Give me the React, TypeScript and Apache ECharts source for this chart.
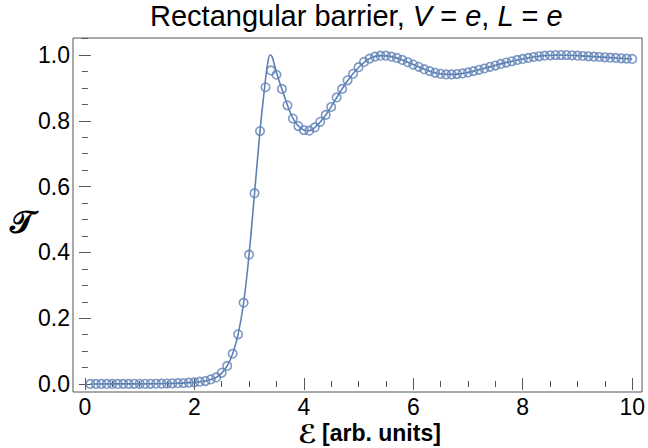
import React, { useEffect, useRef } from "react";
import * as echarts from "echarts";

const ENERGY = [
  0.1, 0.2, 0.3, 0.4, 0.5, 0.6, 0.7, 0.8, 0.9, 1.0,
  1.1, 1.2, 1.3, 1.4, 1.5, 1.6, 1.7, 1.8, 1.9, 2.0,
  2.1, 2.2, 2.3, 2.4, 2.5, 2.6, 2.7, 2.8, 2.9, 3.0,
  3.1, 3.2, 3.3, 3.4, 3.5, 3.6, 3.7, 3.8, 3.9, 4.0,
  4.1, 4.2, 4.3, 4.4, 4.5, 4.6, 4.7, 4.8, 4.9, 5.0,
  5.1, 5.2, 5.3, 5.4, 5.5, 5.6, 5.7, 5.8, 5.9, 6.0,
  6.1, 6.2, 6.3, 6.4, 6.5, 6.6, 6.7, 6.8, 6.9, 7.0,
  7.1, 7.2, 7.3, 7.4, 7.5, 7.6, 7.7, 7.8, 7.9, 8.0,
  8.1, 8.2, 8.3, 8.4, 8.5, 8.6, 8.7, 8.8, 8.9, 9.0,
  9.1, 9.2, 9.3, 9.4, 9.5, 9.6, 9.7, 9.8, 9.9, 10.0,
];

const NUMERIC_T = [
  0.0002, 0.0002, 0.0002, 0.0003, 0.0003, 0.0003, 0.0004, 0.0004, 0.0005, 0.0005,
  0.0006, 0.0007, 0.0008, 0.0009, 0.0015, 0.002, 0.0025, 0.003, 0.004, 0.005,
  0.007, 0.009, 0.014, 0.02, 0.034, 0.055, 0.092, 0.151, 0.247, 0.393,
  0.58, 0.769, 0.902, 0.953, 0.94, 0.897, 0.847, 0.807, 0.784, 0.772,
  0.77, 0.78, 0.797, 0.818, 0.842, 0.871, 0.897, 0.923, 0.943, 0.963,
  0.979, 0.989, 0.995, 0.998, 0.998, 0.995, 0.991, 0.985, 0.978, 0.971,
  0.964, 0.957, 0.951, 0.946, 0.943, 0.941, 0.941, 0.942, 0.944, 0.947,
  0.951, 0.955, 0.959, 0.964, 0.968, 0.973, 0.977, 0.981, 0.985, 0.988,
  0.991, 0.994, 0.996, 0.998, 0.999, 1.0, 1.0, 1.0, 0.999, 0.998,
  0.997, 0.996, 0.995, 0.994, 0.993, 0.992, 0.991, 0.99, 0.989, 0.988,
];

const CURVE_E = [
  0.1, 1.0, 1.5, 2.0, 2.2, 2.4, 2.5, 2.6, 2.7, 2.8, 2.9, 3.0, 3.1, 3.2, 3.25,
  3.3, 3.34, 3.38, 3.42, 3.46, 3.5, 3.55, 3.6, 3.7, 3.8, 3.9, 4.0, 4.1, 4.2,
  4.4, 4.6, 4.8, 5.0, 5.2, 5.4, 5.6, 5.8, 6.0, 6.2, 6.4, 6.6, 6.8, 7.0, 7.2,
  7.4, 7.6, 7.8, 8.0, 8.2, 8.4, 8.7, 9.0, 9.3, 9.6, 10.0,
];
const CURVE_T = [
  0.0002, 0.0005, 0.0015, 0.005, 0.009, 0.02, 0.033, 0.055, 0.092, 0.151, 0.247, 0.393, 0.58, 0.77, 0.85,
  0.925, 0.975, 1.0, 0.995, 0.972, 0.948, 0.92, 0.897, 0.848, 0.808, 0.784, 0.772, 0.77, 0.779,
  0.817, 0.87, 0.922, 0.962, 0.989, 0.998, 0.995, 0.985, 0.971, 0.957, 0.946, 0.941, 0.942, 0.947, 0.955,
  0.964, 0.973, 0.981, 0.988, 0.994, 0.998, 1.0, 0.998, 0.995, 0.992, 0.988,
];

const X_MAJOR = [0, 2, 4, 6, 8, 10];
const X_MINOR = [0.5, 1, 1.5, 2.5, 3, 3.5, 4.5, 5, 5.5, 6.5, 7, 7.5, 8.5, 9, 9.5];
const Y_MAJOR = [0, 0.2, 0.4, 0.6, 0.8, 1.0];
const Y_MINOR = [
  0.05, 0.1, 0.15, 0.25, 0.3, 0.35, 0.45, 0.5, 0.55, 0.65, 0.7, 0.75, 0.85, 0.9, 0.95, 1.05,
];

const TITLE_PARTS = "Rectangular barrier, {i|V} = {i|e}, {i|L} = {i|e}";
const X_NAME_SYMBOL = "ℰ";
const X_NAME_UNITS = "[arb. units]";
const Y_NAME = "𝒯";

const BLUE = "#5e81b5";
const FRAME = "#555555";
const FONT = "Liberation Sans, Arial, sans-serif";
const SCRIPT_FONT = "DejaVu Serif, DejaVu Sans, serif";
const X_MIN = -0.217;
const X_MAX = 10.18;
const Y_MIN = -0.0243;
const Y_MAX = 1.0517;

function xAxisDef(position: string, values: number[], len: number, labels: boolean) {
  return {
    type: "value",
    position,
    min: X_MIN,
    max: X_MAX,
    axisLine: { show: false },
    splitLine: { show: false },
    axisTick: {
      show: true,
      inside: true,
      length: len,
      customValues: values,
      lineStyle: { color: FRAME, width: 1 },
    },
    axisLabel: labels
      ? {
          show: true,
          customValues: values,
          fontSize: 23,
          color: "#000",
          fontFamily: FONT,
          margin: 3,
          formatter: (v: number) => String(Math.round(v)),
        }
      : { show: false },
  };
}

function yAxisDef(position: string, values: number[], len: number, labels: boolean) {
  return {
    type: "value",
    position,
    min: Y_MIN,
    max: Y_MAX,
    axisLine: { show: false },
    splitLine: { show: false },
    axisTick: {
      show: true,
      inside: true,
      length: len,
      customValues: values,
      lineStyle: { color: FRAME, width: 1 },
    },
    axisLabel: labels
      ? {
          show: true,
          customValues: values,
          fontSize: 23,
          color: "#000",
          fontFamily: FONT,
          margin: 3,
          formatter: (v: number) => v.toFixed(1),
        }
      : { show: false },
  };
}

export default function App() {
  const ref = useRef<HTMLDivElement>(null);
  useEffect(() => {
    if (!ref.current) return;
    const chart = echarts.init(ref.current, null, { renderer: "svg" });
    const points = ENERGY.map((e, i) => [e, NUMERIC_T[i]]);
    const curve = CURVE_E.map((e, i) => [e, CURVE_T[i]]);
    chart.setOption({
      animation: false,
      backgroundColor: "#fff",
      title: {
        text: TITLE_PARTS,
        left: 150,
        top: 0,
        padding: 0,
        textStyle: {
          fontSize: 29,
          fontWeight: "normal",
          fontFamily: FONT,
          color: "#000",
          lineHeight: 32,
          rich: {
            i: { fontStyle: "italic", fontSize: 29, fontFamily: FONT, color: "#000", lineHeight: 32 },
          },
        },
      },
      grid: {
        left: 73,
        right: 1,
        top: 38,
        bottom: 56,
        show: true,
        borderColor: FRAME,
        borderWidth: 1,
        backgroundColor: "transparent",
      },
      xAxis: [
        xAxisDef("bottom", X_MAJOR, 6, true),
        xAxisDef("bottom", X_MINOR, 3, false),
        xAxisDef("top", X_MAJOR, 6, false),
        xAxisDef("top", X_MINOR, 3, false),
      ],
      yAxis: [
        yAxisDef("left", Y_MAJOR, 6, true),
        yAxisDef("left", Y_MINOR, 3, false),
        yAxisDef("right", Y_MAJOR, 6, false),
        yAxisDef("right", Y_MINOR, 3, false),
      ],
      series: [
        {
          type: "line",
          data: curve,
          smooth: 0.3,
          showSymbol: false,
          symbol: "none",
          lineStyle: { color: BLUE, width: 1.6 },
          z: 2,
        },
        {
          type: "scatter",
          data: points,
          symbol: "circle",
          symbolSize: 8.5,
          itemStyle: { color: "rgba(255,255,255,0)", borderColor: BLUE, borderWidth: 1.6 },
          z: 3,
        },
      ],
      graphic: [
        {
          type: "text",
          x: 22,
          y: 222,
          style: {
            text: Y_NAME,
            fontSize: 32,
            fontWeight: "bold",
            fontFamily: SCRIPT_FONT,
            fill: "#000",
            align: "center",
            verticalAlign: "middle",
          },
        },
        {
          type: "text",
          x: 317,
          y: 434,
          style: {
            text: X_NAME_SYMBOL,
            fontSize: 26,
            fontWeight: "bold",
            fontFamily: SCRIPT_FONT,
            fill: "#000",
            align: "right",
            verticalAlign: "middle",
          },
        },
        {
          type: "text",
          x: 322,
          y: 433,
          style: {
            text: X_NAME_UNITS,
            fontSize: 23,
            fontWeight: "bold",
            fontFamily: FONT,
            fill: "#000",
            align: "left",
            verticalAlign: "middle",
          },
        },
      ],
    });
    return () => chart.dispose();
  }, []);
  return (
    <div
      ref={ref}
      style={{ position: "fixed", left: 0, top: 0, width: 648, height: 448 }}
    />
  );
}
